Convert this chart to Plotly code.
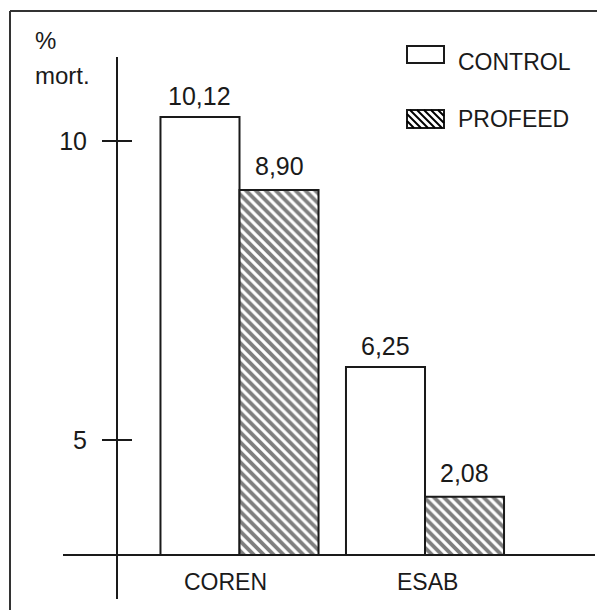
import plotly.graph_objects as go

# ---------------- data ----------------
categories = ["COREN", "ESAB"]
series_names = ["CONTROL", "PROFEED"]
# bar tops as read against the drawn y axis (ticks 5 and 10)
control_tops = [10.40, 6.22]
profeed_tops = [9.18, 4.05]
# printed value labels above the bars
control_labels = ["10,12", "6,25"]
profeed_labels = ["8,90", "2,08"]
# y axis
tick_values = [5, 10]
tick_labels = ["5", "10"]
baseline_value = 3.077
y_title_lines = ["%", "mort."]

# ---------------- layout constants ----------------
W, H = 605, 610
OFF = 8                                 # page body margin of the html page
L, R, T, B = 63, 595, 57, 599          # plot area in screenshot pixels
YMIN, YMAX = 2.341, 11.405
XMIN, XMAX = -0.9515, 1.9164
INK = "#1a1a1a"
FONT = "Liberation Sans, Arial, Helvetica, sans-serif"


def px_x(x):
    return (x - L) / (R - L)


def px_y(y):
    return (B - y) / (B - T)


fig = go.Figure()

fig.add_trace(go.Bar(
    name=series_names[0], x=categories,
    y=[t - baseline_value for t in control_tops], base=baseline_value,
    marker=dict(color="white", line=dict(color=INK, width=2)),
    showlegend=False, hoverinfo="skip",
))
fig.add_trace(go.Bar(
    name=series_names[1], x=categories,
    y=[t - baseline_value for t in profeed_tops], base=baseline_value,
    marker=dict(color="white", line=dict(color=INK, width=2),
                pattern=dict(shape="\\", size=7, solidity=0.55,
                             fgcolor="#000", bgcolor="white", fillmode="overlay")),
    showlegend=False, hoverinfo="skip",
))

shapes = []
# baseline
shapes.append(dict(type="line", xref="paper", yref="y", x0=0, x1=1,
                   y0=baseline_value, y1=baseline_value,
                   line=dict(color=INK, width=2)))
# inner halves of the crossing ticks
for v in tick_values:
    shapes.append(dict(type="line", xref="paper", yref="y",
                       x0=px_x(117), x1=px_x(132), y0=v, y1=v,
                       line=dict(color=INK, width=2)))
# frame (left & top edges visible)
shapes.append(dict(type="line", xref="paper", yref="paper",
                   x0=px_x(10), x1=px_x(10), y0=px_y(11), y1=px_y(640),
                   line=dict(color="#333", width=2)))
shapes.append(dict(type="line", xref="paper", yref="paper",
                   x0=px_x(10), x1=px_x(640), y0=px_y(11), y1=px_y(11),
                   line=dict(color="#333", width=2)))

# legend swatches
sw_x0, sw_x1 = 407, 444
sw_c = (46, 63)
sw_p = (110, 128)
shapes.append(dict(type="rect", xref="paper", yref="paper",
                   x0=px_x(sw_x0), x1=px_x(sw_x1), y0=px_y(sw_c[1]), y1=px_y(sw_c[0]),
                   fillcolor="white", line=dict(color=INK, width=2)))
shapes.append(dict(type="rect", xref="paper", yref="paper",
                   x0=px_x(sw_x0), x1=px_x(sw_x1), y0=px_y(sw_p[1]), y1=px_y(sw_p[0]),
                   fillcolor="white", line=dict(color=INK, width=2)))
y0, y1 = sw_p
c = sw_x0 - y1
while c < sw_x1 - y0:
    ys = max(y0, sw_x0 - c)
    ye = min(y1, sw_x1 - c)
    if ye > ys:
        shapes.append(dict(type="line", xref="paper", yref="paper",
                           x0=px_x(ys + c), y0=px_y(ys), x1=px_x(ye + c), y1=px_y(ye),
                           line=dict(color="#000", width=2)))
    c += 7

annotations = []
# bar value labels
off = 0.213
for i, cat in enumerate(categories):
    annotations.append(dict(x=i - off, y=control_tops[i], xref="x", yref="y",
                            text=control_labels[i], showarrow=False,
                            yanchor="middle", yshift=21,
                            font=dict(size=25, color=INK, family=FONT)))
    annotations.append(dict(x=i + off, y=profeed_tops[i], xref="x", yref="y",
                            text=profeed_labels[i], showarrow=False,
                            yanchor="middle", yshift=24,
                            font=dict(size=25, color=INK, family=FONT)))
# category labels
cat_shift = [-14, 2]
for i, cat in enumerate(categories):
    annotations.append(dict(x=i, y=px_y(582), xref="x", yref="paper",
                            text=cat, showarrow=False, xshift=cat_shift[i],
                            yanchor="middle",
                            font=dict(size=23, color=INK, family=FONT)))
# y title
annotations.append(dict(x=px_x(33), y=px_y(40), xref="paper", yref="paper",
                        text=y_title_lines[0], showarrow=False,
                        xanchor="left", yanchor="middle",
                        font=dict(size=24, color=INK, family=FONT)))
annotations.append(dict(x=px_x(33), y=px_y(76), xref="paper", yref="paper",
                        text=y_title_lines[1], showarrow=False,
                        xanchor="left", yanchor="middle",
                        font=dict(size=24, color=INK, family=FONT)))
# legend texts
annotations.append(dict(x=px_x(456), y=px_y(62), xref="paper", yref="paper",
                        text=series_names[0], showarrow=False,
                        xanchor="left", yanchor="middle",
                        font=dict(size=23, color=INK, family=FONT)))
annotations.append(dict(x=px_x(456), y=px_y(119), xref="paper", yref="paper",
                        text=series_names[1], showarrow=False,
                        xanchor="left", yanchor="middle",
                        font=dict(size=23, color=INK, family=FONT)))

fig.update_layout(
    width=W, height=H, autosize=False,
    margin=dict(l=L - OFF, r=W - (R - OFF), t=T - OFF, b=H - (B - OFF), pad=0),
    paper_bgcolor="white", plot_bgcolor="white",
    barmode="group", bargap=0.148, bargroupgap=0,
    shapes=shapes, annotations=annotations,
    xaxis=dict(range=[XMIN, XMAX], showticklabels=False, showgrid=False,
               zeroline=False, showline=False, ticks=""),
    yaxis=dict(range=[YMIN, YMAX], anchor="free", position=px_x(117),
               showline=True, linewidth=2, linecolor=INK,
               ticks="outside", ticklen=14, tickwidth=2, tickcolor=INK,
               tickvals=tick_values, ticktext=tick_labels,
               ticklabelstandoff=10,
               tickfont=dict(size=25, color=INK, family=FONT),
               showgrid=False, zeroline=False),
    font=dict(family=FONT, color=INK),
)

fig.write_html("out.html")
